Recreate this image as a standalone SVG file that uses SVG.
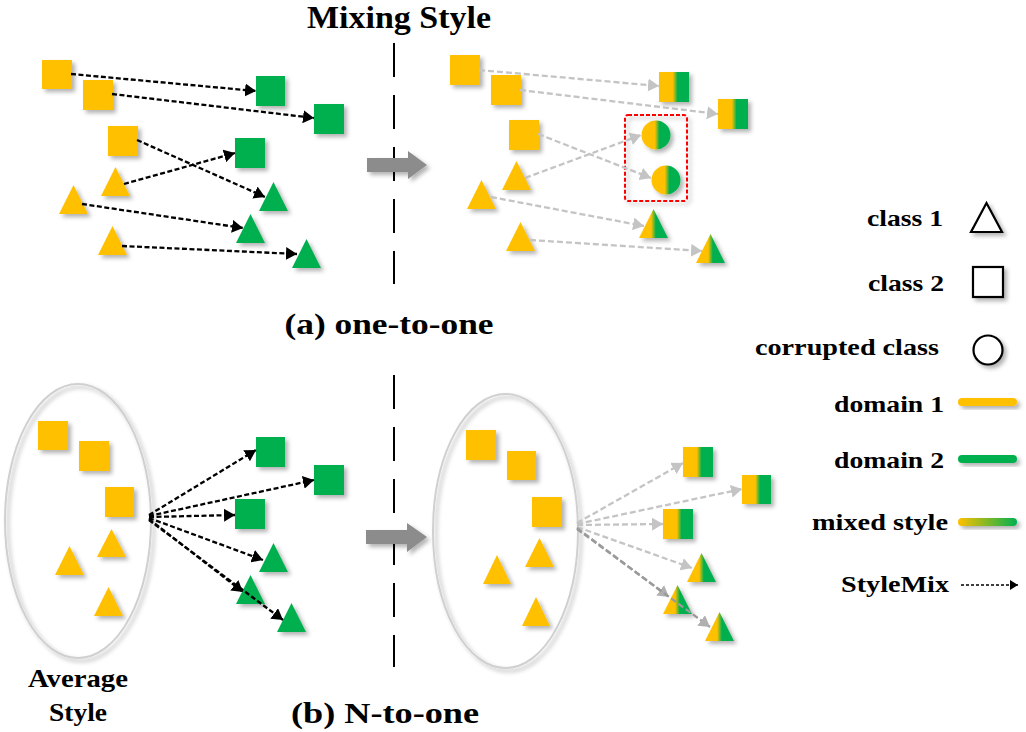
<svg xmlns="http://www.w3.org/2000/svg" width="1026" height="732" viewBox="0 0 1026 732">
<defs>
<style>
.y{fill:#FFC000}
.g{fill:#00B050}
.ms{fill:url(#mixSq)}
.mt{fill:url(#mixTri)}
.sh{filter:url(#sh)}
.c1{fill:none;stroke:#000;stroke-width:2.3;stroke-dasharray:5 2.5;marker-end:url(#ah)}
.c2{fill:none;stroke:#c4c4c4;stroke-width:2.3;stroke-dasharray:6 3;marker-end:url(#ahg)}
.c3{fill:none;stroke:#9a9a9a;stroke-width:2.3;stroke-dasharray:6 3;marker-end:url(#ahd)}
.t{font-family:"Liberation Serif","Times New Roman",serif;font-weight:bold;fill:#000}
.lg{font-size:24px;text-anchor:end}
.ell{fill:none;stroke:#d0d0d0;stroke-width:2}
.vd{stroke:#000;stroke-width:2;stroke-dasharray:34 18}
</style>
<filter id="sh" x="-40%" y="-40%" width="180%" height="180%">
<feDropShadow dx="3" dy="3" stdDeviation="2" flood-color="#000" flood-opacity="0.3"/>
</filter>
<linearGradient id="mixSq" x1="0" y1="0" x2="1" y2="0">
<stop offset="0.46" stop-color="#FFC000"/><stop offset="0.62" stop-color="#00B050"/>
</linearGradient>
<linearGradient id="mixTri" x1="0" y1="0" x2="1" y2="0">
<stop offset="0.42" stop-color="#FFC000"/><stop offset="0.58" stop-color="#00B050"/>
</linearGradient>
<linearGradient id="mixLine" x1="958" y1="0" x2="1017" y2="0" gradientUnits="userSpaceOnUse">
<stop offset="0" stop-color="#FFC000"/><stop offset="1" stop-color="#00B050"/>
</linearGradient>
<marker id="ah" viewBox="0 0 10 10" refX="10" refY="5" markerWidth="11" markerHeight="13" markerUnits="userSpaceOnUse" orient="auto" preserveAspectRatio="none"><path d="M0,0 L10,5 L0,10z" fill="#000"/></marker>
<marker id="ahg" viewBox="0 0 10 10" refX="10" refY="5" markerWidth="11" markerHeight="13" markerUnits="userSpaceOnUse" orient="auto" preserveAspectRatio="none"><path d="M0,0 L10,5 L0,10z" fill="#c4c4c4"/></marker>
<marker id="ahd" viewBox="0 0 10 10" refX="10" refY="5" markerWidth="11" markerHeight="13" markerUnits="userSpaceOnUse" orient="auto" preserveAspectRatio="none"><path d="M0,0 L10,5 L0,10z" fill="#b0b0b0"/></marker>
<marker id="ahs" viewBox="0 0 10 10" refX="10" refY="5" markerWidth="8" markerHeight="10" markerUnits="userSpaceOnUse" orient="auto" preserveAspectRatio="none"><path d="M0,0 L10,5 L0,10z" fill="#000"/></marker>
</defs>
<rect width="1026" height="732" fill="#fff"/>

<!-- titles -->
<text class="t" x="399" y="28" font-size="31" text-anchor="middle" textLength="184" lengthAdjust="spacingAndGlyphs">Mixing Style</text>
<text class="t" x="389" y="334" font-size="30" text-anchor="middle" textLength="209" lengthAdjust="spacingAndGlyphs">(a) one-to-one</text>
<text class="t" x="385" y="723" font-size="30" text-anchor="middle" textLength="188" lengthAdjust="spacingAndGlyphs">(b) N-to-one</text>
<text class="t" x="78" y="687" font-size="26" text-anchor="middle" textLength="100" lengthAdjust="spacingAndGlyphs">Average</text>
<text class="t" x="78" y="721" font-size="26" text-anchor="middle" textLength="58" lengthAdjust="spacingAndGlyphs">Style</text>

<!-- dividers and transition arrows -->
<g id="divider-top"><line class="vd" x1="394" y1="43" x2="394" y2="284"/></g>
<g id="divider-bottom"><line class="vd" x1="394" y1="375" x2="394" y2="667"/></g>
<g id="bigarrow-top" class="sh"><polygon points="367,158 408,158 408,151 427,165 408,179 408,172 367,172" fill="#8c8c8c"/></g>
<g id="bigarrow-bottom" class="sh"><polygon points="366,530 407,530 407,523 427,537 407,552 407,544 366,544" fill="#8c8c8c"/></g>

<!-- ellipses -->
<g id="ellipse-left" class="sh"><ellipse class="ell" cx="78" cy="521" rx="73" ry="137"/></g>
<g id="ellipse-right" class="sh"><ellipse class="ell" cx="505.5" cy="531" rx="72.5" ry="137"/></g>

<!-- (a) left -->
<g id="a-sy1" class="sh"><rect class="y" x="42" y="60" width="30" height="29"/></g>
<g id="a-sy2" class="sh"><rect class="y" x="83" y="80" width="30" height="30"/></g>
<g id="a-sy3" class="sh"><rect class="y" x="108" y="126" width="30" height="30"/></g>
<g id="a-sg1" class="sh"><rect class="g" x="256" y="76" width="29" height="30"/></g>
<g id="a-sg2" class="sh"><rect class="g" x="314" y="104" width="30" height="30"/></g>
<g id="a-sg3" class="sh"><rect class="g" x="235" y="138" width="30" height="30"/></g>
<g id="a-ty1" class="sh"><polygon class="y" points="115.5,167 101,196 130,196"/></g>
<g id="a-ty2" class="sh"><polygon class="y" points="73.5,185 59,214 88,214"/></g>
<g id="a-ty3" class="sh"><polygon class="y" points="112.5,226 98,255 127,255"/></g>
<g id="a-tg1" class="sh"><polygon class="g" points="273.5,182 259,211 288,211"/></g>
<g id="a-tg2" class="sh"><polygon class="g" points="250.5,214 236,243 265,243"/></g>
<g id="a-tg3" class="sh"><polygon class="g" points="306.5,239 292,268 321,268"/></g>

<!-- (a) right -->
<g id="a-rsy1" class="sh"><rect class="y" x="450" y="55" width="30" height="30"/></g>
<g id="a-rsy2" class="sh"><rect class="y" x="491" y="75" width="30" height="30"/></g>
<g id="a-rsy3" class="sh"><rect class="y" x="509" y="120" width="30" height="30"/></g>
<g id="a-rsm1" class="sh"><rect class="ms" x="659" y="72" width="30" height="30"/></g>
<g id="a-rsm2" class="sh"><rect class="ms" x="718" y="99" width="30" height="30"/></g>
<g id="a-rty1" class="sh"><polygon class="y" points="516.5,161 502,190 531,190"/></g>
<g id="a-rty2" class="sh"><polygon class="y" points="481.5,180 467,209 496,209"/></g>
<g id="a-rty3" class="sh"><polygon class="y" points="520.5,222 506,251 535,251"/></g>
<g id="a-rtm1" class="sh"><polygon class="mt" points="653.5,209 639,238 668,238"/></g>
<g id="a-rtm2" class="sh"><polygon class="mt" points="710.5,234 696,263 725,263"/></g>
<g id="a-rc1" class="sh"><circle class="ms" cx="656" cy="135" r="14.5"/></g>
<g id="a-rc2" class="sh"><circle class="ms" cx="666" cy="180" r="14.5"/></g>
<g id="a-redbox" class="sh"><rect x="625" y="115" width="62" height="86" rx="3" fill="none" stroke="#FF0000" stroke-width="2" stroke-dasharray="4 2"/></g>

<!-- (b) left -->
<g id="b-sy1" class="sh"><rect class="y" x="38" y="421" width="30" height="29"/></g>
<g id="b-sy2" class="sh"><rect class="y" x="79" y="441" width="30" height="30"/></g>
<g id="b-sy3" class="sh"><rect class="y" x="105" y="487" width="29" height="30"/></g>
<g id="b-ty1" class="sh"><polygon class="y" points="111.5,529 97,557 126,557"/></g>
<g id="b-ty2" class="sh"><polygon class="y" points="69.5,546 55,575 84,575"/></g>
<g id="b-ty3" class="sh"><polygon class="y" points="108.5,587 94,616 123,616"/></g>
<g id="b-sg1" class="sh"><rect class="g" x="256" y="437" width="29" height="30"/></g>
<g id="b-sg2" class="sh"><rect class="g" x="314" y="465" width="30" height="30"/></g>
<g id="b-sg3" class="sh"><rect class="g" x="235" y="499" width="30" height="30"/></g>
<g id="b-tg1" class="sh"><polygon class="g" points="273.5,543 259,572 288,572"/></g>
<g id="b-tg2" class="sh"><polygon class="g" points="250.5,575 236,604 265,604"/></g>
<g id="b-tg3" class="sh"><polygon class="g" points="291.5,603 277,632 306,632"/></g>

<!-- (b) right -->
<g id="b-rsy1" class="sh"><rect class="y" x="466" y="430" width="30" height="30"/></g>
<g id="b-rsy2" class="sh"><rect class="y" x="507" y="451" width="29" height="29"/></g>
<g id="b-rsy3" class="sh"><rect class="y" x="532" y="497" width="30" height="30"/></g>
<g id="b-rty1" class="sh"><polygon class="y" points="539.5,538 525,567 554,567"/></g>
<g id="b-rty2" class="sh"><polygon class="y" points="497,555 483,584 511,584"/></g>
<g id="b-rty3" class="sh"><polygon class="y" points="536,597 522,626 550,626"/></g>
<g id="b-rsm1" class="sh"><rect class="ms" x="683" y="447" width="30" height="30"/></g>
<g id="b-rsm2" class="sh"><rect class="ms" x="742" y="475" width="29" height="29"/></g>
<g id="b-rsm3" class="sh"><rect class="ms" x="663" y="509" width="30" height="30"/></g>
<g id="b-rtm1" class="sh"><polygon class="mt" points="701.5,553 687,582 716,582"/></g>
<g id="b-rtm2" class="sh"><polygon class="mt" points="677.5,585 663,614 692,614"/></g>
<g id="b-rtm3" class="sh"><polygon class="mt" points="719.5,612 705,641 734,641"/></g>

<!-- connectors -->
<g id="connectors">
<line class="c1" x1="71" y1="74" x2="256" y2="91"/>
<line class="c1" x1="112" y1="94" x2="314" y2="118"/>
<line class="c1" x1="137" y1="140" x2="265" y2="197"/>
<line class="c1" x1="124" y1="184" x2="235" y2="153"/>
<line class="c1" x1="82" y1="204" x2="243" y2="228"/>
<line class="c1" x1="122" y1="246" x2="297" y2="254"/>

<line class="c2" x1="479" y1="70" x2="659" y2="86"/>
<line class="c2" x1="520" y1="90" x2="718" y2="114"/>
<line class="c2" x1="538" y1="134" x2="651" y2="178"/>
<line class="c2" x1="525" y1="178" x2="641" y2="135"/>
<line class="c2" x1="491" y1="197" x2="644" y2="226"/>
<line class="c2" x1="530" y1="240" x2="702" y2="251"/>

<line class="c1" x1="149" y1="515" x2="256" y2="450"/>
<line class="c1" x1="149" y1="516" x2="314" y2="480"/>
<line class="c1" x1="149" y1="517" x2="235" y2="515"/>
<line class="c1" x1="149" y1="518" x2="263" y2="560"/>
<line class="c1" x1="149" y1="519" x2="243" y2="592"/>
<line class="c1" x1="149" y1="520" x2="283" y2="620"/>

<line class="c2" x1="577" y1="523" x2="683" y2="463"/>
<line class="c2" x1="577" y1="524" x2="742" y2="489"/>
<line class="c2" x1="577" y1="525" x2="663" y2="524"/>
<line class="c2" x1="577" y1="527" x2="692" y2="568"/>
<line class="c3" x1="577" y1="528" x2="669" y2="597"/>
<line class="c3" x1="577" y1="529" x2="710" y2="627"/>
</g>

<!-- legend -->
<g id="legend-class1">
<text class="t lg" x="943" y="226" textLength="76" lengthAdjust="spacingAndGlyphs">class 1</text>
<polygon class="sh" points="986.5,203 971,232 1002,232" fill="#fff" stroke="#000" stroke-width="2.2" stroke-linejoin="miter"/>
</g>
<g id="legend-class2">
<text class="t lg" x="944" y="291" textLength="76" lengthAdjust="spacingAndGlyphs">class 2</text>
<rect class="sh" x="973" y="267" width="30" height="30" fill="#fff" stroke="#000" stroke-width="2.2"/>
</g>
<g id="legend-corrupted">
<text class="t lg" x="939" y="355" textLength="184" lengthAdjust="spacingAndGlyphs">corrupted class</text>
<circle class="sh" cx="988" cy="350" r="14.5" fill="#fff" stroke="#000" stroke-width="2.2"/>
</g>
<g id="legend-domain1">
<text class="t lg" x="944" y="412" textLength="110" lengthAdjust="spacingAndGlyphs">domain 1</text>
<rect class="sh" x="958" y="398" width="59" height="8" rx="4" fill="#FFC000"/>
</g>
<g id="legend-domain2">
<text class="t lg" x="944" y="468" textLength="110" lengthAdjust="spacingAndGlyphs">domain 2</text>
<rect class="sh" x="958" y="455" width="59" height="8" rx="4" fill="#00B050"/>
</g>
<g id="legend-mixed">
<text class="t lg" x="948" y="530" textLength="136" lengthAdjust="spacingAndGlyphs">mixed style</text>
<rect class="sh" x="958" y="518" width="59" height="8" rx="4" fill="url(#mixLine)"/>
</g>
<g id="legend-stylemix">
<text class="t lg" x="949" y="592" textLength="108" lengthAdjust="spacingAndGlyphs">StyleMix</text>
<line x1="961" y1="585" x2="1018" y2="585" stroke="#000" stroke-width="1.6" stroke-dasharray="3 2" marker-end="url(#ahs)"/>
</g>
</svg>
